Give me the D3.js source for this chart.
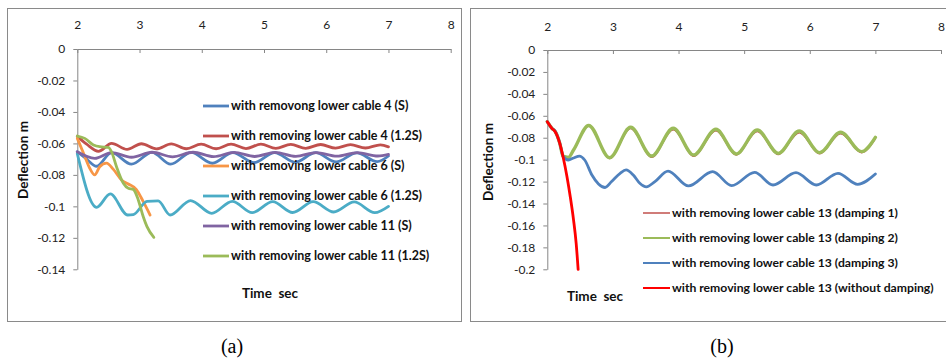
<!DOCTYPE html>
<html>
<head>
<meta charset="utf-8">
<script src="https://cdn.jsdelivr.net/npm/d3@7"></script>
<style>
  body { margin: 0; background: #fff; }
  text { font-family: Lato, "Open Sans", sans-serif; }
</style>
</head>
<body>
<div id="chart"></div>
<script>
// time ticks shared by both panels
const timeTicks = [2, 3, 4, 5, 6, 7, 8];
const yTicksA = [0, -0.02, -0.04, -0.06, -0.08, -0.1, -0.12, -0.14];
const yTicksB = [0, -0.02, -0.04, -0.06, -0.08, -0.1, -0.12, -0.14, -0.16, -0.18, -0.2];

// panel (a) series, [time, deflection]
const cable4S = [[2,-0.0653],[2.15,-0.070],[2.31,-0.0745],[2.55,-0.0658],[2.87,-0.0732],[3.2,-0.0657],[3.5,-0.0732],[3.83,-0.0657],[4.17,-0.0726],[4.5,-0.0658],[4.84,-0.0722],[5.17,-0.0658],[5.5,-0.072],[5.83,-0.0659],[6.16,-0.0718],[6.49,-0.066],[6.82,-0.0716],[7,-0.068]];
const cable4_12S = [[2,-0.0555],[2.15,-0.0605],[2.34,-0.065],[2.55,-0.060],[2.8,-0.0638],[3.03,-0.0602],[3.27,-0.0635],[3.51,-0.0603],[3.75,-0.0634],[3.99,-0.0604],[4.23,-0.0634],[4.47,-0.0604],[4.71,-0.0633],[4.95,-0.0605],[5.19,-0.0632],[5.43,-0.0606],[5.67,-0.0631],[5.91,-0.0607],[6.15,-0.063],[6.39,-0.0608],[6.63,-0.0629],[6.87,-0.0609],[7,-0.0622]];
const cable6S = [[2,-0.0568],[2.1,-0.0663],[2.2,-0.0758],[2.28,-0.080],[2.36,-0.0748],[2.47,-0.0725],[2.58,-0.0765],[2.71,-0.0832],[2.82,-0.0858],[2.95,-0.0893],[3.06,-0.097],[3.17,-0.1055]];
const cable6_12S = [[2,-0.0665],[2.31,-0.1006],[2.53,-0.0921],[2.81,-0.1055],[2.9,-0.1052],[3.12,-0.0968],[3.3,-0.0965],[3.49,-0.1055],[3.82,-0.0963],[4.16,-0.1044],[4.49,-0.0968],[4.81,-0.104],[5.14,-0.097],[5.46,-0.1039],[5.79,-0.097],[6.12,-0.1036],[6.45,-0.0972],[6.78,-0.104],[7,-0.1]];
const cable11S = [[2,-0.0653],[2.28,-0.0695],[2.55,-0.0658],[2.87,-0.0688],[3.2,-0.0656],[3.53,-0.0685],[3.86,-0.0656],[4.19,-0.0684],[4.52,-0.0657],[4.85,-0.0683],[5.18,-0.0657],[5.51,-0.0682],[5.84,-0.0658],[6.17,-0.0681],[6.5,-0.0658],[6.83,-0.068],[7,-0.067]];
const cable11_12S = [[2,-0.0553],[2.12,-0.0568],[2.26,-0.061],[2.36,-0.0621],[2.5,-0.0625],[2.55,-0.0653],[2.63,-0.0748],[2.74,-0.0853],[2.82,-0.0885],[2.9,-0.0892],[2.98,-0.0959],[3.06,-0.1066],[3.12,-0.1129],[3.23,-0.1197]];

// panel (b) series
const damping1 = [[2,-0.0654],[2.07,-0.0714],[2.12,-0.0742],[2.19,-0.085],[2.24,-0.0968],[2.32,-0.0985],[2.4,-0.092],[2.63,-0.0695],[2.95,-0.099],[3.27,-0.0718],[3.59,-0.098],[3.92,-0.0728],[4.23,-0.097],[4.57,-0.0738],[4.88,-0.096],[5.2,-0.0745],[5.52,-0.0955],[5.84,-0.0755],[6.15,-0.0948],[6.47,-0.0765],[6.79,-0.0938],[7,-0.081]];
const damping2 = [[2,-0.0654],[2.07,-0.0714],[2.12,-0.0742],[2.19,-0.085],[2.24,-0.0968],[2.32,-0.098],[2.4,-0.0912],[2.63,-0.0688],[2.95,-0.0982],[3.27,-0.0705],[3.59,-0.0967],[3.92,-0.0714],[4.23,-0.0958],[4.57,-0.0723],[4.88,-0.0948],[5.2,-0.073],[5.52,-0.0943],[5.84,-0.0739],[6.15,-0.0936],[6.47,-0.075],[6.79,-0.0927],[7,-0.0797]];
const damping3 = [[2,-0.0654],[2.07,-0.0714],[2.12,-0.0742],[2.19,-0.085],[2.24,-0.0968],[2.32,-0.1003],[2.4,-0.0985],[2.49,-0.0967],[2.57,-0.1003],[2.68,-0.114],[2.78,-0.1222],[2.88,-0.1254],[2.98,-0.12],[3.11,-0.1125],[3.2,-0.1094],[3.31,-0.114],[3.41,-0.1216],[3.51,-0.1248],[3.64,-0.12],[3.84,-0.1104],[4.15,-0.124],[4.52,-0.111],[4.81,-0.1237],[5.16,-0.1116],[5.44,-0.1231],[5.79,-0.1119],[6.1,-0.1231],[6.43,-0.1125],[6.73,-0.1225],[7,-0.1131]];
const noDamping = [[2,-0.0654],[2.07,-0.0714],[2.12,-0.0745],[2.19,-0.0851],[2.24,-0.0973],[2.3,-0.1155],[2.35,-0.1338],[2.4,-0.155],[2.44,-0.1763],[2.47,-0.2]];

const panelA = {
  box: [7.5, 8.5, 454, 313],
  x0: 77.3, x1: 450.7, y0: 49, y1: 269.3, yMin: -0.14, yTicks: yTicksA,
  xPad: 20, yLabel: [28, 160], xLabel: [270, 298],
  legend: { lx0: 203, lx1: 229, tx: 231, y0: 106, dy: 30, fs: 12.5 },
  series: [
    { name: "with removong lower cable 4 (S)", data: cable4S, color: "#4F81BD", w: 2.8 },
    { name: "with removing lower cable 4 (1.2S)", data: cable4_12S, color: "#C0504D", w: 2.8 },
    { name: "with removing lower cable 6 (S)", data: cable6S, color: "#F79646", w: 2.8 },
    { name: "with removing lower cable 6 (1.2S)", data: cable6_12S, color: "#4BACC6", w: 2.8 },
    { name: "with removing lower cable 11 (S)", data: cable11S, color: "#8064A2", w: 2.8 },
    { name: "with removing lower cable 11 (1.2S)", data: cable11_12S, color: "#9BBB59", w: 2.8 }
  ]
};

const panelB = {
  box: [470.5, 8.5, 490, 313],
  x0: 547.3, x1: 941, y0: 50, y1: 269.3, yMin: -0.2, yTicks: yTicksB,
  xPad: 19, yLabel: [493, 162], xLabel: [595, 301],
  legend: { lx0: 643, lx1: 670, tx: 672, y0: 213, dy: 25, fs: 12.2 },
  series: [
    { name: "with removing lower cable 13 (damping 1)", data: damping1, color: "#C0504D", w: 1.2, lw: 1.5 },
    { name: "with removing lower cable 13 (damping 2)", data: damping2, color: "#9BBB59", w: 3.4, lw: 2 },
    { name: "with removing lower cable 13 (damping 3)", data: damping3, color: "#4F81BD", w: 2.8, lw: 2 },
    { name: "with removing lower cable 13 (without damping)", data: noDamping, color: "#FF0000", w: 2.8, lw: 2 }
  ]
};

const svg = d3.select("#chart").append("svg")
  .attr("width", 946)
  .attr("height", 359);

function fmt(d) {
  return d === 0 ? "0" : String(+d.toFixed(2));
}

function drawPanel(svg, p) {
  const x = d3.scaleLinear().domain([2, 8]).range([p.x0, p.x1]);
  const y = d3.scaleLinear().domain([0, p.yMin]).range([p.y0, p.y1]);

  svg.append("rect")
    .attr("x", p.box[0]).attr("y", p.box[1])
    .attr("width", p.box[2]).attr("height", p.box[3])
    .attr("fill", "none")
    .attr("stroke", "#8a8a8a");

  const gx = svg.append("g")
    .attr("transform", `translate(0,${p.y0})`)
    .call(d3.axisTop(x).tickValues(timeTicks).tickSize(-4).tickSizeOuter(0)
      .tickPadding(p.xPad).tickFormat(d => d));

  const gy = svg.append("g")
    .attr("transform", `translate(${p.x0},0)`)
    .call(d3.axisLeft(y).tickValues(p.yTicks).tickSize(4).tickSizeOuter(0)
      .tickPadding(8).tickFormat(fmt));

  [gx, gy].forEach(g => {
    g.attr("font-family", null).attr("font-size", 12);
    g.select(".domain").attr("stroke", "#868686");
    g.selectAll(".tick line").attr("stroke", "#868686");
    g.selectAll(".tick text").attr("fill", "#222");
  });

  const line = d3.line()
    .x(d => x(d[0]))
    .y(d => y(d[1]))
    .curve(d3.curveMonotoneX);

  svg.append("g")
    .selectAll("path")
    .data(p.series)
    .join("path")
      .attr("d", d => line(d.data))
      .attr("fill", "none")
      .attr("stroke", d => d.color)
      .attr("stroke-width", d => d.w)
      .attr("stroke-linejoin", "round")
      .attr("stroke-linecap", "round");

  svg.append("text")
    .attr("transform", `translate(${p.yLabel[0]},${p.yLabel[1]}) rotate(-90)`)
    .attr("text-anchor", "middle")
    .attr("font-size", 13.5)
    .attr("font-weight", "bold")
    .attr("fill", "#111")
    .text("Deflection m");

  svg.append("text")
    .attr("x", p.xLabel[0]).attr("y", p.xLabel[1])
    .attr("text-anchor", "middle")
    .attr("font-size", 13.5)
    .attr("font-weight", "bold")
    .attr("fill", "#111")
    .style("white-space", "pre")
    .text("Time  sec");

  const lg = p.legend;
  const item = svg.append("g")
    .selectAll("g")
    .data(p.series)
    .join("g")
      .attr("transform", (d, i) => `translate(0,${lg.y0 + i * lg.dy})`);

  item.append("line")
    .attr("x1", lg.lx0).attr("x2", lg.lx1)
    .attr("stroke", d => d.color)
    .attr("stroke-width", d => d.lw || d.w);

  item.append("text")
    .attr("x", lg.tx)
    .attr("dy", "0.35em")
    .attr("font-size", lg.fs)
    .attr("font-weight", "bold")
    .attr("fill", "#111")
    .text(d => d.name);
}

drawPanel(svg, panelA);
drawPanel(svg, panelB);

svg.selectAll(".caption")
  .data(["(a)", "(b)"])
  .join("text")
    .attr("x", (d, i) => i === 0 ? 232 : 722)
    .attr("y", 353)
    .attr("text-anchor", "middle")
    .style("font-family", "'Liberation Serif', serif")
    .attr("font-size", 20)
    .attr("fill", "#000")
    .text(d => d);
</script>
</body>
</html>
